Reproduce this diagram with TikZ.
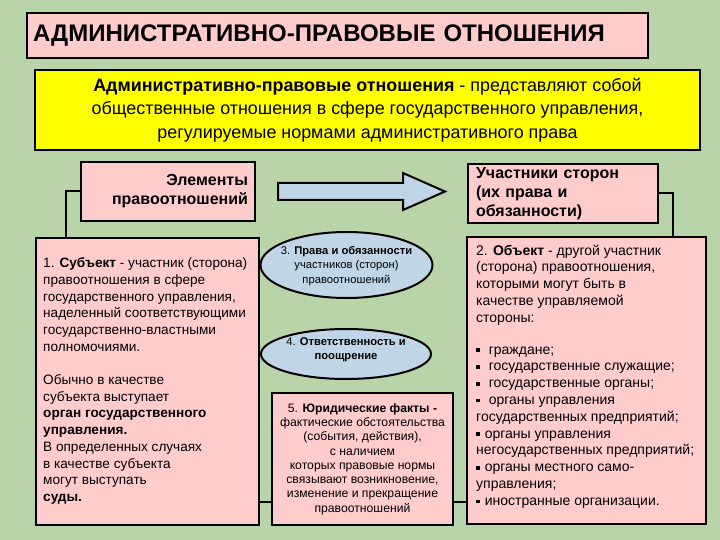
\documentclass[tikz,border=0pt]{standalone}
\usepackage{fontspec}
\setmainfont{Liberation Sans}
\usetikzlibrary{shapes.geometric,calc}
\definecolor{bg}{RGB}{186,212,170}
\definecolor{pinkc}{RGB}{255,204,204}
\definecolor{bluec}{RGB}{192,214,230}
\definecolor{yel}{RGB}{255,255,0}
\newcommand{\fsz}[2]{\fontsize{#1}{#2}\selectfont}
\newcommand{\sqb}{\rule[2pt]{3.6pt}{3.6pt}}
\tikzset{
  box/.style={draw=black, line width=2pt, fill=pinkc, inner sep=0pt},
  oval/.style={ellipse, draw=black, line width=2pt, fill=bluec, inner sep=0pt},
  ovaltxt/.style={inner sep=0pt, align=center, font=\fsz{11.2}{14.3}},
  conn/.style={draw=black, line width=2pt},
  txt/.style={inner sep=0pt, align=left, anchor=north west}
}
\begin{document}
\begin{tikzpicture}[x=1pt,y=-1pt]
\fill[bg] (0,0) rectangle (720,540);
\useasboundingbox (0,0) rectangle (720,540);

% title
\node[box, text width=609pt, inner xsep=6pt, minimum height=45pt, align=left,
      font=\bfseries\fsz{24}{28}] (title) at (337.5,35.5) {АДМИНИСТРАТИВНО-ПРАВОВЫЕ ОТНОШЕНИЯ};

% definition
\node[draw=black, line width=2pt, fill=yel, inner sep=0pt, minimum width=665pt, minimum height=80pt,
      align=center, font=\fsz{17.9}{23.5}] (def) at (367.5,110)
  {\textbf{Административно-правовые отношения} - представляют собой\\
   общественные отношения в сфере государственного управления,\\
   регулируемые нормами административного права};

% header boxes
\node[box, minimum width=174pt, minimum height=59pt, text width=160pt, align=right,
      font=\bfseries\fsz{16}{19}] (el) at (168,191.5) {Элементы\hspace*{6pt}\\правоотношений};
\node[box, minimum width=190pt, minimum height=59pt, text width=174pt, align=left,
      font=\bfseries\fsz{16}{19}] (uch) at (563,193.5) {Участники сторон\\(их права и\\обязанности)};

% arrow
\filldraw[fill=bluec, draw=black, line width=2pt, line join=miter]
  (278,183) -- (403,183) -- (403,173) -- (445,191.5) -- (403,210) -- (403,200) -- (278,200) -- cycle;

% left box
\node[box, minimum width=223pt, minimum height=287pt] (left) at (147.5,381.5) {};
\node[txt, font=\fsz{13.6}{16.7}] (lt) at (43,257.5)
  {1. \textbf{Субъект} - участник (сторона)\\
   правоотношения в сфере\\
   государственного управления,\\
   наделенный соответствующими\\
   государственно-властными\\
   полномочиями.\\[16.7pt]
   Обычно в качестве\\
   субъекта выступает\\
   \textbf{орган государственного}\\
   \textbf{управления.}\\
   В определенных случаях\\
   в качестве субъекта\\
   могут выступать\\
   \textbf{суды.}};

% right box
\node[box, minimum width=239pt, minimum height=287pt] (right) at (586.5,380.5) {};
\node[txt, font=\fsz{14}{16.8}] (rt) at (476,244.5)
  {2. \textbf{Объект} - другой участник\\
   (сторона) правоотношения,\\
   которыми могут быть в\\
   качестве управляемой\\
   стороны:\\[15pt]
   \sqb\hspace{9pt}граждане;\\
   \sqb\hspace{9pt}государственные служащие;\\
   \sqb\hspace{9pt}государственные органы;\\
   \sqb\hspace{9pt}органы управления\\
   государственных предприятий;\\
   \sqb\hspace{5pt}органы управления\\
   негосударственных предприятий;\\
   \sqb\hspace{5pt}органы местного само-\\
   управления;\\
   \sqb\hspace{5pt}иностранные организации.};

% ovals
\node[oval, minimum width=172pt, minimum height=66pt] (o3) at (346.5,265) {};
\node[ovaltxt] (o3t) at (346.5,266) {3. \textbf{Права и обязанности}\\участников (сторон)\\правоотношений};
\node[oval, minimum width=170pt, minimum height=50pt] (o4) at (346,354) {};
\node[ovaltxt] (o4t) at (346,350) {4. \textbf{Ответственность и}\\\textbf{поощрение}};

% box 5
\node[box, minimum width=181pt, minimum height=132pt, align=center, font=\fsz{12.2}{14.3}] (five) at (362.5,459)
  {5. \textbf{Юридические факты -}\\
   фактические обстоятельства\\
   (события, действия),\\
   с наличием\\
   которых правовые нормы\\
   связывают возникновение,\\
   изменение и прекращение\\
   правоотношений};

% connectors
\draw[conn] (el.west) -| ([xshift=31pt]left.north west);
\draw[conn] (uch.east) -| ([xshift=-34pt]right.north east);
\coordinate (h1) at ([yshift=-43pt]five.west);
\coordinate (h2) at ([yshift=-43pt]five.east);
\draw[conn] (h1) -- (h1 -| left.east);
\draw[conn] (h2) -- (h2 -| right.west);
\end{tikzpicture}
\end{document}
